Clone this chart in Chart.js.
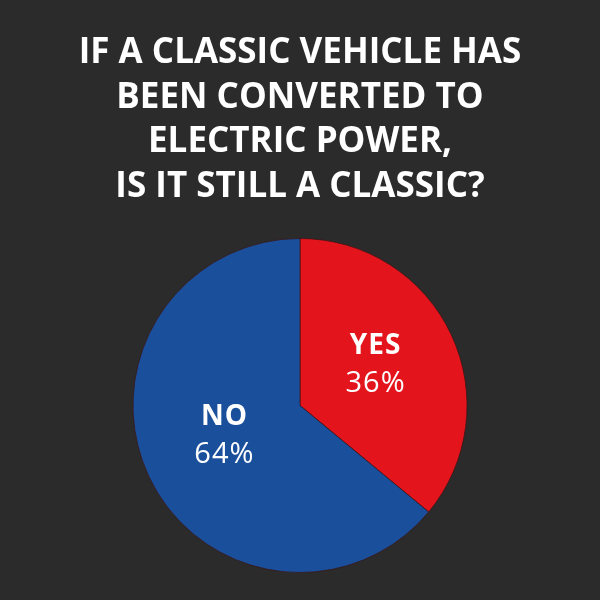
<!DOCTYPE html>
<html lang="en">
  <head>
    <meta charset="UTF-8" />
    <title>Classic EV poll</title>
    <script src="https://cdn.jsdelivr.net/npm/chart.js@4.4.1/dist/chart.umd.min.js"></script>
    <style>
      html, body { margin: 0; padding: 0; background: #2b2b2b; }
      #wrap { width: 600px; height: 600px; }
    </style>
  </head>
  <body>
    <div id="wrap"><canvas id="chart" width="600" height="600"></canvas></div>
    <script>
      const titleLines = [
        "IF A CLASSIC VEHICLE HAS",
        "BEEN CONVERTED TO",
        "ELECTRIC POWER,",
        "IS IT STILL A CLASSIC?",
      ];
      const answers = ["YES", "NO"];
      const shares = [36, 64];
      const sliceColors = ["#e3141c", "#1a4f9b"];

      // draws the answer + percent inside each slice
      const sliceLabels = {
        id: "sliceLabels",
        afterDatasetsDraw(chart) {
          const ctx = chart.ctx;
          const meta = chart.getDatasetMeta(0);
          meta.data.forEach((arc, i) => {
            const p = arc.tooltipPosition();
            const y = p.y - 5;
            ctx.save();
            ctx.letterSpacing = "1px";
            ctx.fillStyle = "#ffffff";
            ctx.textAlign = "center";
            ctx.textBaseline = "middle";
            ctx.font = "bold 28px 'Open Sans'";
            ctx.fillText(answers[i], p.x, y - 19);
            ctx.font = "29px 'Open Sans'";
            ctx.fillText(shares[i] + "%", p.x, y + 19);
            ctx.restore();
          });
        },
      };

      const ctx = document.getElementById("chart").getContext("2d");
      new Chart(ctx, {
        type: "pie",
        data: {
          labels: answers,
          datasets: [
            {
              data: shares,
              backgroundColor: sliceColors,
              borderColor: "rgba(60,20,20,0.7)",
              borderWidth: 1,
            },
          ],
        },
        options: {
          responsive: false,
          animation: false,
          layout: { padding: { bottom: 27 } },
          plugins: {
            legend: { display: false },
            tooltip: { enabled: false },
            title: {
              display: true,
              text: titleLines,
              color: "#ffffff",
              font: { family: "'Open Sans'", size: 35, weight: "bold", lineHeight: 1.277 },
              padding: { top: 30.5, bottom: 28.7 },
            },
          },
        },
        plugins: [sliceLabels],
      });
    </script>
  </body>
</html>
